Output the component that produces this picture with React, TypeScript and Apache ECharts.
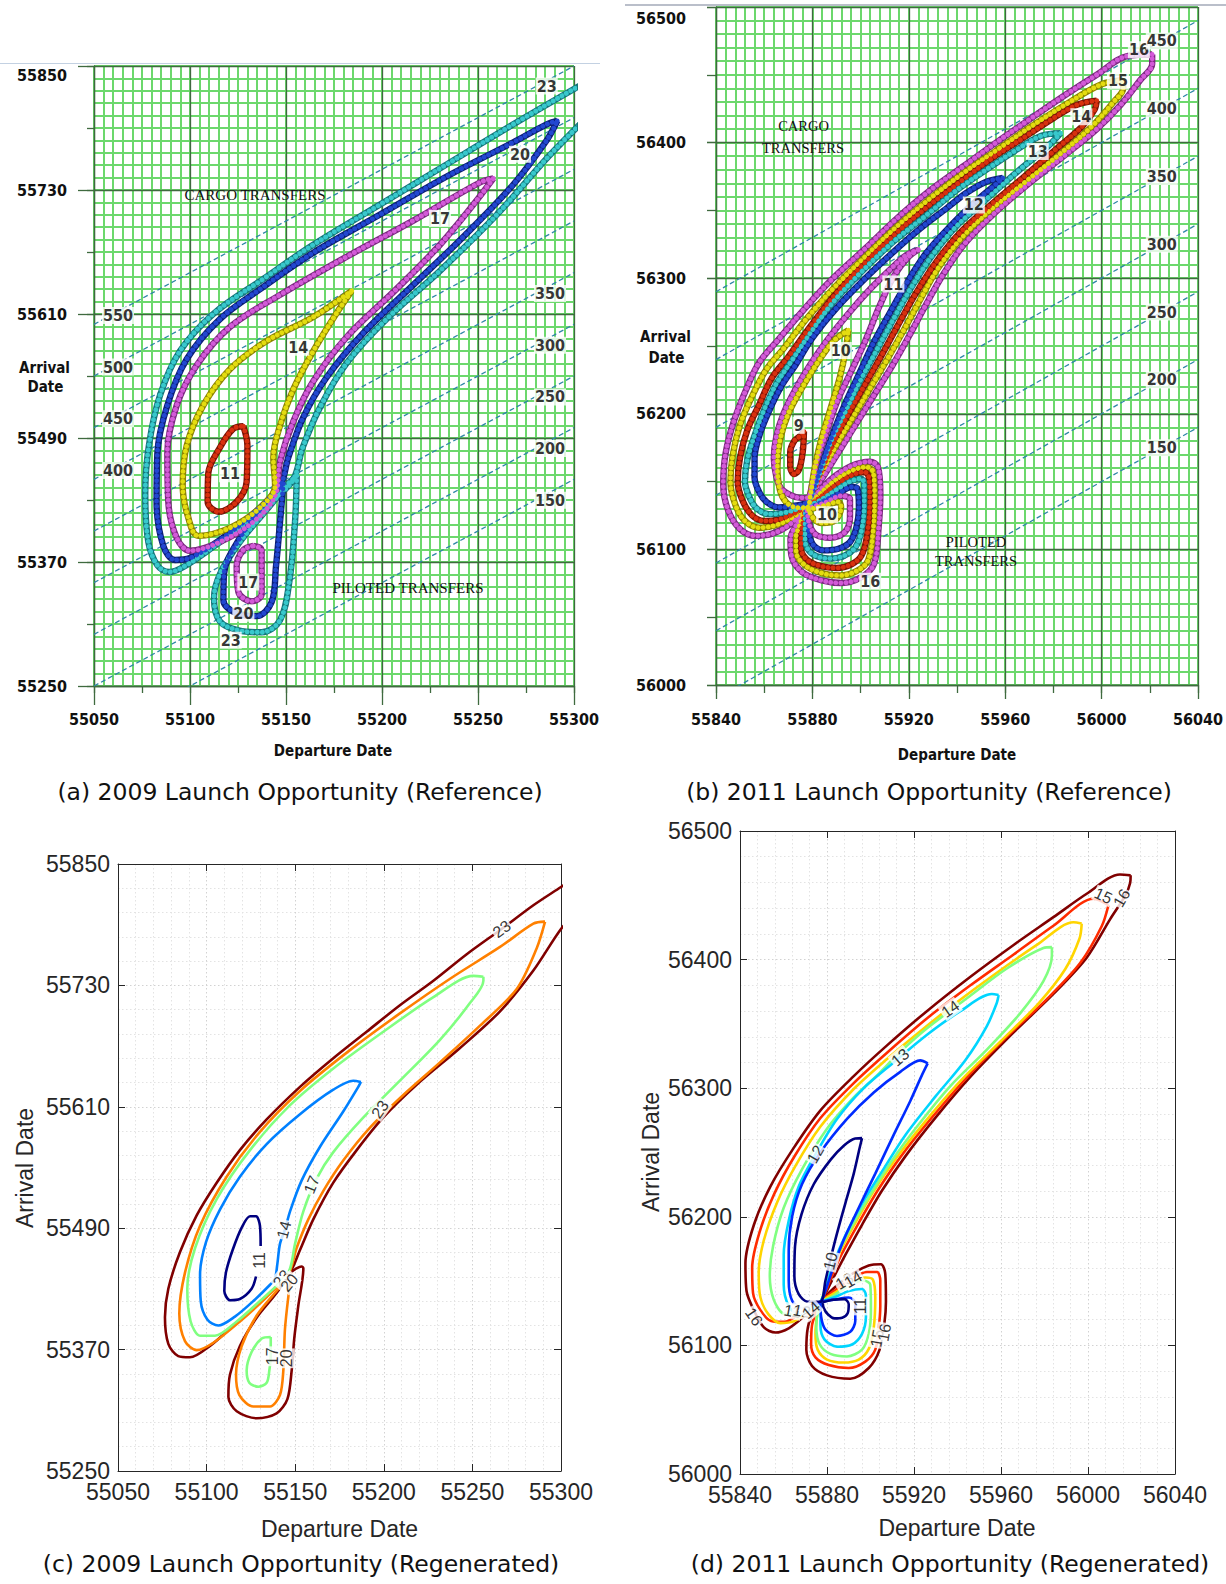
import React, { useEffect, useRef } from "react";
import * as echarts from "echarts";

type Pt = [number, number];
type Lbl = { v: Pt; t: string; r?: number };

// ================= (a) 2009 launch opportunity (reference) =================
const A_DEP: Pt = [55050, 55300];
const A_ARR: Pt = [55250, 55850];
const A_TOF = [150, 200, 250, 300, 350, 400, 450, 500, 550];
const A_TOF_LEFT = [400, 450, 500, 550];
const A_TOF_RIGHT = [150, 200, 250, 300, 350];
const A_TOF_LABEL_DEP = [55062.5, 55287.5];

const A_C11: Pt[] = [[55127.8,55501.4],[55129.9,55482.7],[55129.5,55447.7],[55124.3,55428.3],[55114.8,55418.6],[55109.2,55428.3],[55109.5,55455.5],[55115.6,55480.8],[55122.6,55499.0],[55127.8,55501.4]];
const A_C14: Pt[] = [[55184.2,55632.4],[55164.2,55607.1],[55139.9,55583.8],[55120.8,55556.6],[55106.9,55521.6],[55098.3,55482.7],[55096.2,55443.9],[55099.1,55412.8],[55104.3,55395.3],[55120.8,55403.1],[55136.5,55422.5],[55144.3,55443.9],[55143.4,55471.1],[55146.9,55502.2],[55153.8,55537.1],[55164.2,55574.1],[55176.4,55611.0],[55184.2,55632.4]];
const A_C17: Pt[] = [[55258.0,55741.2],[55251.0,55737.3],[55216.3,55700.4],[55181.6,55665.4],[55146.9,55628.5],[55120.8,55597.4],[55103.5,55560.4],[55093.1,55521.6],[55088.2,55475.0],[55088.7,55428.3],[55093.1,55393.3],[55100.0,55380.9],[55115.6,55389.4],[55133.0,55408.9],[55144.3,55434.2],[55146.9,55467.2],[55153.8,55506.0],[55164.2,55544.9],[55181.6,55587.7],[55207.6,55634.3],[55230.2,55677.0],[55247.6,55715.9],[55258.0,55741.2]];
const A_P17: Pt[] = [[55133.0,55385.6],[55137.3,55381.7],[55137.3,55338.9],[55132.1,55331.9],[55125.2,55340.9],[55124.3,55366.1],[55127.8,55381.7],[55133.0,55385.6]];
const A_C20: Pt[] = [[55291.3,55796.8],[55285.8,55793.6],[55268.4,55776.2],[55233.7,55743.1],[55199.0,55706.2],[55164.2,55669.3],[55138.2,55636.2],[55115.6,55605.1],[55098.3,55566.3],[55088.2,55521.6],[55083.0,55475.0],[55082.6,55428.3],[55086.1,55385.6],[55092.2,55372.0],[55100.0,55373.9],[55115.6,55391.4],[55133.0,55416.7],[55146.9,55443.9],[55151.2,55471.1],[55159.0,55510.0],[55171.2,55548.8],[55190.3,55591.6],[55216.3,55638.2],[55242.4,55684.8],[55268.4,55735.3],[55285.8,55778.1],[55291.3,55796.8]];
const A_P20: Pt[] = [[55148.6,55445.8],[55146.9,55408.9],[55144.8,55366.1],[55142.5,55331.1],[55134.7,55317.6],[55124.3,55320.3],[55117.4,55333.1],[55117.7,55358.4],[55126.0,55393.3],[55138.2,55424.4],[55148.6,55445.8]];
const A_C23: Pt[] = [[55310,55838],[55300,55827.8],[55268.4,55793.6],[55233.7,55754.8],[55199.0,55715.9],[55164.2,55677.0],[55138.2,55644.0],[55112.2,55610.2],[55094.8,55574.1],[55084.4,55531.3],[55078.6,55482.7],[55076.7,55436.1],[55078.3,55389.4],[55083.0,55366.9],[55089.2,55360.3],[55096.5,55365.2],[55112.2,55384.8],[55129.5,55408.1],[55143.4,55430.3],[55153.8,55449.7],[55158.7,55480.8],[55167.7,55519.6],[55181.6,55562.4],[55202.4,55605.1],[55230.2,55651.8],[55259.7,55705.9],[55285.8,55760.6],[55300,55787.8],[55310,55806]];
const A_P23: Pt[] = [[55155.6,55453.6],[55154.7,55408.9],[55151.7,55350.6],[55146.9,55313.7],[55137.3,55302.0],[55125.2,55303.9],[55115.6,55312.5],[55112.5,55335.0],[55115.6,55358.4],[55126.0,55389.4],[55139.9,55420.5],[55151.2,55445.8],[55155.6,55453.6]];
const A_LABELS: Lbl[] = [
  { v: [55120.8, 55455.5], t: "11" }, { v: [55156.4, 55577.9], t: "14" }, { v: [55230.2, 55702.3], t: "17" },
  { v: [55271.9, 55764.5], t: "20" }, { v: [55285.8, 55830.6], t: "23" }, { v: [55130.4, 55350.6], t: "17" },
  { v: [55127.8, 55320.3], t: "20" }, { v: [55121.2, 55294.2], t: "23" },
];

// ================= (b) 2011 launch opportunity (reference) =================
const B_DEP: Pt = [55840, 56040];
const B_ARR: Pt = [56000, 56500];
const B_TOF = [150, 200, 250, 300, 350, 400, 450];
const B_TOF_LABEL_DEP = 56025;

const B_C16: Pt[] = [[56021,56465],[56011,56464],[55998,56450],[55984,56434],[55970,56417],[55957,56401],[55943,56383],[55929,56365],[55915,56344],[55902,56322],[55888,56299],[55877,56278],[55866,56255],[55858,56238],[55853,56220],[55847.5,56195],[55844,56171],[55843,56148],[55845,56129],[55850,56115],[55856.5,56110],[55864,56112],[55871,56119],[55877,56130],[55880,56141],[55885,56155],[55892,56175],[55899,56195],[55906,56215],[55913,56235],[55920,56257],[55927,56280],[55934,56302],[55943,56325],[55955,56347],[55970,56370],[55985,56391],[55998,56410],[56008,56428],[56016,56446],[56021,56458],[56021,56465]];
const B_C15: Pt[] = [[56009,56446],[56000,56443],[55985,56428],[55970,56411],[55957,56395],[55943,56378],[55929,56359],[55915,56338],[55902,56316],[55889,56293],[55878,56271],[55868,56248],[55861,56233],[55855,56213],[55850,56192],[55847,56170],[55846,56150],[55848,56133],[55852,56121],[55858,56116],[55865,56118],[55872,56124],[55877,56131],[55880,56143],[55884,56157],[55890,56177],[55897,56198],[55904,56219],[55911,56240],[55918,56262],[55925,56285],[55932,56307],[55942,56330],[55955,56352],[55969,56372],[55983,56392],[55996,56412],[56005,56430],[56009,56440],[56009,56446]];
const B_C14: Pt[] = [[55998,56431],[55990,56428],[55980,56418],[55968,56404],[55955,56389],[55942,56372],[55928,56353],[55914,56332],[55901,56310],[55889,56287],[55879,56264],[55870,56242],[55863,56226],[55858,56207],[55853,56188],[55850,56168],[55849,56150],[55851,56136],[55855,56125],[55860,56121],[55866,56122],[55873,56127],[55877,56132],[55881,56145],[55884,56159],[55889,56179],[55895,56200],[55902,56222],[55909,56244],[55916,56267],[55923,56289],[55931,56311],[55941,56333],[55954,56354],[55968,56375],[55981,56395],[55992,56412],[55997,56424],[55998,56431]];
const B_C13: Pt[] = [[55983,56407],[55975,56405],[55965,56395],[55953,56381],[55940,56365],[55927,56346],[55913,56326],[55900,56304],[55888,56281],[55879,56259],[55871,56238],[55865,56222],[55860,56203],[55856,56184],[55853,56166],[55852,56150],[55854,56138],[55857,56130],[55862,56126],[55868,56127],[55874,56130],[55878,56134],[55881,56146],[55884,56161],[55888,56181],[55894,56203],[55900,56225],[55907,56248],[55914,56271],[55921,56293],[55929,56315],[55939,56337],[55952,56358],[55966,56380],[55977,56396],[55983,56407]];
const B_C12: Pt[] = [[55959,56374],[55952,56371],[55944,56363],[55936,56352],[55925,56337],[55914,56320],[55902,56300],[55890,56278],[55880,56256],[55873,56236],[55867,56220],[55862,56202],[55858,56184],[55856,56167],[55856,56153],[55858,56142],[55861,56135],[55866,56131],[55872,56132],[55878,56135],[55881,56147],[55884,56163],[55888,56183],[55893,56205],[55899,56228],[55905,56251],[55912,56274],[55919,56296],[55927,56318],[55937,56338],[55948,56357],[55956,56369],[55959,56374]];
const B_C11: Pt[] = [[55924,56321],[55919,56317],[55912,56306],[55904,56292],[55895,56274],[55886,56254],[55879,56236],[55873,56218],[55868,56200],[55865,56183],[55864,56167],[55865,56154],[55867,56145],[55871,56140],[55875,56138],[55878,56138],[55880,56149],[55882,56166],[55886,56187],[55890,56208],[55896,56231],[55902,56254],[55908,56280],[55914,56302],[55920,56316],[55924,56321]];
const B_C10: Pt[] = [[55894.9,56261.6],[55889,56254],[55883,56240],[55876,56220],[55870,56200],[55866.5,56180],[55865.5,56161],[55866.5,56144],[55869,56135],[55873,56131],[55877.7,56130.7],[55879.1,56138.6],[55880.5,56155.8],[55883.2,56177.9],[55887.3,56202.5],[55891.4,56227.1],[55893.8,56246.8],[55894.9,56261.6]];
const B_C9: Pt[] = [[55876.5,56187],[55876,56172],[55874.5,56159],[55872.5,56155.5],[55870.8,56161],[55870.8,56172],[55872.5,56180],[55874.5,56183],[55876.5,56187]];
const B_P16: Pt[] = [[55877,56131],[55881.2,56139.8],[55888.0,56152.1],[55896.2,56161.5],[55903.8,56164.7],[55907.2,56160.7],[55908.2,56141.1],[55907.5,56116.5],[55905.6,56089.4],[55900.4,56079.6],[55892.1,56075.2],[55883.9,56077.1],[55875.7,56083.3],[55871.3,56095.6],[55870.9,56107.9],[55873.6,56119.0],[55877,56131]];
const B_P15: Pt[] = [[55877,56131],[55881.8,56138.6],[55888.7,56149.7],[55896.2,56157.8],[55902.4,56160.7],[55905.2,56157.1],[55905.8,56138.6],[55905.2,56114.0],[55903.1,56091.9],[55898.3,56084.0],[55891.4,56080.8],[55883.9,56082.5],[55877.0,56088.2],[55873.3,56098.0],[55873.2,56108.6],[55875.0,56119.0],[55877,56131]];
const B_P14: Pt[] = [[55877,56131],[55882.5,56137.4],[55889.4,56147.2],[55896.2,56154.6],[55901.5,56157.1],[55903.4,56153.4],[55903.8,56136.2],[55902.8,56111.6],[55900.4,56095.6],[55896.2,56089.0],[55890.1,56086.3],[55883.2,56087.8],[55877.7,56092.5],[55875.3,56100.6],[55875.3,56110.4],[55876.1,56120.2],[55877,56131]];
const B_P13: Pt[] = [[55877,56131],[55883.2,56136.2],[55890.1,56144.1],[55896.2,56150.5],[55900.1,56152.2],[55901.5,56148.5],[55901.5,56133.8],[55900.4,56114.0],[55897.9,56101.7],[55893.5,56095.6],[55887.3,56093.2],[55881.8,56094.9],[55878.4,56099.4],[55877.0,56106.7],[55877.0,56116.5],[55877,56131]];
const B_P12: Pt[] = [[55877.3,56129.3],[55883.9,56135.0],[55890.8,56141.1],[55896.2,56146.0],[55898.7,56144.8],[55899.3,56131.3],[55898.3,56116.5],[55895.6,56105.4],[55890.8,56100.5],[55884.6,56099.3],[55880.5,56103.0],[55878.7,56110.4],[55878.0,56120.2],[55877.3,56129.3]];
const B_P11: Pt[] = [[55877.7,56130.0],[55885.3,56134.5],[55892.1,56139.5],[55895.6,56137.0],[55895.6,56123.9],[55893.5,56112.8],[55887.3,56108.6],[55881.8,56110.4],[55879.1,56116.5],[55878.1,56123.9],[55877.7,56130.0]];
const B_P10: Pt[] = [[55878.4,56129.3],[55885.3,56132.5],[55890.8,56135.0],[55891.9,56131.3],[55889.4,56121.4],[55883.9,56119.5],[55880.5,56122.7],[55878.4,56129.3]];
const B_LABELS: Lbl[] = [
  { v: [56015.5, 56468.5], t: "16" }, { v: [56006.8, 56445.5], t: "15" }, { v: [55991.6, 56419], t: "14" },
  { v: [55973.5, 56393.4], t: "13" }, { v: [55947, 56354], t: "12" }, { v: [55913.6, 56295.7], t: "11" },
  { v: [55891.8, 56246.7], t: "10" }, { v: [55874.3, 56191.5], t: "9" }, { v: [55886.1, 56125.5], t: "10" },
  { v: [55904, 56076.6], t: "16" },
];

// ================= (c) 2009 regenerated =================
const C_C23: Pt[] = [[55310,55839],[55300.0,55827.3],[55284.4,55809.2],[55266.5,55785.8],[55246.8,55760.8],[55228.0,55734.6],[55209.1,55710.4],[55190.3,55684.2],[55171.5,55658.0],[55152.7,55629.7],[55133.9,55597.5],[55118.8,55567.2],[55105.7,55534.9],[55094.4,55502.6],[55085.0,55466.4],[55078.4,55430.1],[55076.5,55401.9],[55078.4,55375.7],[55084.0,55363.6],[55090.6,55362.4],[55101.9,55373.7],[55115.1,55393.8],[55128.3,55414.0],[55139.5,55432.1],[55147.1,55446.2],[55152.7,55468.4],[55160.2,55498.7],[55171.5,55535.0],[55184.7,55567.2],[55199.7,55599.5],[55218.5,55631.8],[55243.0,55668.1],[55265.6,55704.4],[55284.4,55744.7],[55300.0,55785.8],[55310,55805]];
const C_P23: Pt[] = [[55148.0,55446.9],[55139.5,55425.9],[55128.3,55401.7],[55118.8,55373.5],[55113.2,55345.3],[55112.3,55323.1],[55117.0,55309.0],[55128.3,55302.1],[55139.5,55307.0],[55145.6,55321.1],[55148.0,55349.3],[55149.5,55381.6],[55151.8,55413.9],[55154.6,55450.2],[55153.6,55452.2],[55149.9,55449.4],[55148.0,55446.9]];
const C_C20: Pt[] = [[55291.0,55793.0],[55284.4,55791.0],[55265.6,55768.0],[55237.4,55736.6],[55209.1,55702.3],[55180.9,55666.0],[55152.7,55625.7],[55130.1,55585.3],[55111.3,55540.9],[55096.3,55492.5],[55087.8,55446.1],[55084.6,55405.8],[55087.8,55378.4],[55094.4,55369.5],[55103.8,55376.8],[55118.8,55397.8],[55133.9,55422.0],[55146.1,55444.2],[55150.8,55470.4],[55157.4,55498.7],[55165.9,55526.9],[55177.2,55557.1],[55192.2,55589.4],[55211.0,55621.7],[55231.7,55653.9],[55254.3,55690.2],[55275.0,55726.5],[55286.3,55766.8],[55291.0,55793.0]];
const C_P20: Pt[] = [[55148.0,55445.4],[55139.5,55427.9],[55128.3,55403.7],[55119.8,55373.5],[55116.6,55345.3],[55118.5,55325.1],[55126.4,55313.8],[55135.8,55313.8],[55141.4,55325.1],[55143.3,55349.3],[55144.2,55389.6],[55146.1,55421.9],[55148.0,55445.4]];
const C_C17: Pt[] = [[55256.2,55738.6],[55250.5,55739.4],[55228.0,55718.4],[55199.7,55684.2],[55171.5,55647.9],[55147.1,55611.6],[55124.5,55567.2],[55105.7,55518.8],[55093.5,55470.4],[55089.1,55430.1],[55091.0,55397.8],[55096.3,55383.7],[55104.7,55383.7],[55117.0,55397.8],[55130.1,55418.0],[55142.4,55438.1],[55147.1,55450.2],[55149.9,55474.5],[55154.6,55506.7],[55162.1,55539.0],[55171.5,55565.2],[55188.5,55599.5],[55209.1,55635.8],[55231.7,55676.2],[55248.6,55712.5],[55256.2,55734.6],[55256.2,55738.6]];
const C_P17: Pt[] = [[55136.2,55382.5],[55131.1,55380.9],[55125.4,55367.6],[55122.6,55349.3],[55124.1,55337.3],[55129.2,55333.3],[55133.9,55337.3],[55135.4,55349.3],[55136.2,55365.4],[55136.2,55382.5]];
const C_C14: Pt[] = [[55187.1,55634.6],[55182.8,55635.8],[55171.5,55626.9],[55152.7,55602.7],[55133.9,55573.2],[55118.8,55540.9],[55107.6,55508.7],[55099.7,55476.4],[55096.3,55444.2],[55096.7,55417.9],[55100.4,55399.8],[55106.6,55393.8],[55116.0,55402.6],[55126.4,55418.0],[55135.8,55434.1],[55138.6,55440.2],[55139.9,55454.3],[55141.4,55474.5],[55144.2,55488.6],[55147.1,55506.7],[55153.6,55537.0],[55164.0,55570.5],[55177.2,55605.6],[55185.6,55629.7],[55187.1,55634.6]];
const C_C11: Pt[] = [[55130.5,55472.4],[55130.1,55492.5],[55127.9,55501.8],[55124.5,55501.8],[55119.8,55490.5],[55114.7,55468.4],[55110.9,55446.1],[55110.0,55428.0],[55113.2,55418.8],[55118.8,55420.0],[55125.4,55430.1],[55127.9,55442.2]];
const C_LABELS: Lbl[] = [
  { v: [55266.5, 55785.8], t: "23", r: 36 }, { v: [55197.9, 55607.5], t: "23", r: 55 },
  { v: [55159.3, 55532.9], t: "17", r: 68 }, { v: [55143.7, 55488.5], t: "14", r: 75 },
  { v: [55129.8, 55458.2], t: "11", r: 90 }, { v: [55137.3, 55363.4], t: "17", r: 90 },
  { v: [55145.2, 55361.4], t: "20", r: 90 }, { v: [55142.4, 55440.1], t: "23", r: 50 },
  { v: [55146.7, 55436.1], t: "20", r: 50 },
];

// ================= (d) 2011 regenerated =================
const D_C16: Pt[] = [[56019.6,56465.5],[56014.7,56466.2],[55999.4,56451.2],[55984.1,56433.0],[55965.8,56411.4],[55945.8,56386.5],[55925.9,56359.9],[55907.6,56333.3],[55892.3,56309.4],[55877.0,56282.8],[55864.7,56253.6],[55854.0,56223.7],[55846.4,56193.8],[55842.5,56163.9],[55843.0,56142.3],[55846.4,56127.3],[55851.0,56114.0],[55856.3,56110.0],[55862.4,56113.3],[55869.3,56122.3],[55877.0,56133.9],[55882.3,56150.5],[55888.5,56170.5],[55896.1,56193.8],[55905.3,56220.4],[55916.0,56247.0],[55929.8,56276.9],[55946.6,56310.1],[55965.8,56343.4],[55984.1,56373.3],[55999.4,56401.5],[56010.2,56431.5],[56017.1,56449.8],[56019.4,56459.8],[56019.6,56465.5]];
const D_C15: Pt[] = [[56009.4,56442.3],[56002.5,56447.3],[55984.1,56426.3],[55965.8,56404.0],[55945.8,56379.8],[55925.9,56354.2],[55907.6,56327.6],[55892.3,56304.0],[55877.0,56276.8],[55865.0,56246.9],[55855.8,56218.0],[55849.0,56188.1],[55845.6,56160.5],[55846.0,56140.6],[55849.4,56127.3],[55854.3,56119.0],[55860.4,56118.3],[55867.8,56125.0],[55877.0,56133.9],[55881.3,56150.5],[55886.6,56170.5],[55894.1,56193.8],[55903.3,56220.4],[55914.0,56247.0],[55927.8,56276.3],[55944.3,56308.5],[55962.7,56340.1],[55981.1,56369.3],[55996.4,56397.3],[56006.3,56425.9],[56009.4,56442.3]];
const D_C14: Pt[] = [[55997.1,56428.0],[55993.3,56429.0],[55976.5,56411.4],[55958.1,56389.8],[55938.2,56364.9],[55922.9,56344.3],[55907.6,56322.7],[55892.3,56299.4],[55877.0,56270.2],[55865.5,56239.6],[55857.1,56211.4],[55850.9,56181.4],[55848.6,56156.5],[55849.4,56137.2],[55853.2,56123.9],[55858.6,56117.3],[55865.0,56118.9],[55871.2,56125.6],[55877.0,56133.9],[55879.7,56147.2],[55884.9,56168.8],[55892.0,56192.1],[55901.0,56218.7],[55911.7,56245.3],[55925.2,56274.2],[55941.6,56306.1],[55960.0,56336.7],[55977.3,56366.0],[55989.5,56392.5],[55996.1,56416.4],[55997.1,56428.0]];
const D_C13: Pt[] = [[55983.4,56409.7],[55979.5,56409.0],[55962.7,56393.1],[55944.3,56369.9],[55926.0,56346.6],[55913.7,56328.3],[55903.0,56310.0],[55892.3,56292.8],[55880.0,56268.5],[55868.5,56236.9],[55860.1,56207.0],[55855.2,56177.1],[55853.7,56153.8],[55855.5,56135.6],[55860.1,56124.6],[55866.3,56123.9],[55872.4,56128.9],[55877.0,56133.9],[55879.3,56145.5],[55883.9,56167.1],[55890.7,56190.4],[55899.2,56215.3],[55909.1,56241.9],[55921.4,56270.2],[55936.7,56301.7],[55953.5,56330.0],[55968.8,56358.2],[55979.5,56383.2],[55983.4,56403.1],[55983.4,56409.7]];
const D_C12: Pt[] = [[55958.9,56372.5],[55955.8,56373.2],[55941.3,56359.9],[55926.0,56341.6],[55910.6,56320.0],[55896.9,56300.1],[55884.6,56276.1],[55874.7,56248.6],[55867.0,56223.6],[55862.4,56197.0],[55860.1,56170.4],[55860.1,56147.2],[55862.4,56130.6],[55867.0,56123.9],[55872.4,56127.9],[55877.0,56133.9],[55879.0,56142.2],[55882.3,56160.5],[55888.4,56185.4],[55896.1,56210.3],[55905.3,56235.3],[55916.0,56263.5],[55929.8,56293.4],[55943.6,56321.7],[55953.5,56348.3],[55958.1,56366.5],[55958.9,56372.5]];
const D_C11: Pt[] = [[55926.3,56319.3],[55922.9,56321.6],[55913.7,56312.7],[55901.5,56296.7],[55889.2,56276.1],[55877.0,56250.2],[55868.5,56225.3],[55864.0,56200.4],[55862.4,56173.8],[55862.4,56150.5],[55864.0,56134.6],[55868.5,56128.9],[55873.1,56131.2],[55877.0,56133.9],[55879.0,56141.2],[55882.3,56157.8],[55887.7,56182.1],[55894.6,56207.0],[55902.2,56233.6],[55910.6,56263.5],[55918.3,56290.1],[55923.6,56310.0],[55926.3,56319.3]];
const D_C10: Pt[] = [[55896.1,56261.2],[55893.0,56260.9],[55887.7,56255.3],[55881.6,56244.3],[55873.9,56225.3],[55868.3,56202.0],[55865.3,56177.1],[55865.0,56153.8],[55867.0,56139.8],[55871.2,56133.9],[55877.0,56133.9],[55879.3,56150.5],[55881.6,56167.1],[55884.6,56187.1],[55888.4,56210.3],[55892.3,56233.6],[55895.0,56253.5],[55896.1,56261.2]];
const D_P16: Pt[] = [[55877.0,56133.9],[55883.1,56144.5],[55891.5,56155.5],[55899.2,56162.1],[55904.8,56163.1],[55906.8,56155.5],[55907.1,56133.9],[55906.4,56117.3],[55904.2,56096.7],[55899.2,56082.4],[55890.7,56074.1],[55880.0,56076.7],[55873.1,56084.0],[55870.5,56096.7],[55871.2,56114.0],[55873.9,56126.6],[55877.0,56133.9]];
const D_P15: Pt[] = [[55877.0,56133.9],[55883.1,56142.2],[55890.7,56151.2],[55898.4,56157.1],[55903.0,56157.1],[55904.5,56150.5],[55904.5,56130.5],[55903.8,56113.9],[55902.2,56096.7],[55897.6,56087.4],[55890.0,56082.4],[55880.8,56084.7],[55874.7,56090.7],[55872.7,56100.7],[55873.1,56115.6],[55875.1,56126.6],[55877.0,56133.9]];
const D_P14: Pt[] = [[55877.0,56133.9],[55883.1,56140.5],[55890.7,56147.8],[55897.6,56152.8],[55901.1,56151.2],[55902.2,56137.2],[55901.5,56113.9],[55899.2,56097.3],[55894.6,56089.0],[55887.7,56086.7],[55880.0,56089.0],[55875.7,56096.7],[55874.7,56108.9],[55875.5,56124.0],[55877.0,56133.9]];
const D_P13: Pt[] = [[55877.0,56133.9],[55883.1,56138.8],[55890.0,56146.5],[55896.9,56150.5],[55899.9,56147.2],[55900.2,56127.3],[55899.2,56109.0],[55896.1,56096.7],[55889.2,56091.4],[55881.6,56093.4],[55876.7,56100.7],[55875.1,56114.0],[55875.7,56126.6],[55877.0,56133.9]];
const D_P12: Pt[] = [[55877.0,56133.9],[55883.1,56137.2],[55890.0,56142.2],[55896.1,56143.9],[55897.9,56138.9],[55897.9,56122.3],[55896.1,56109.0],[55891.5,56100.7],[55884.6,56099.0],[55878.8,56104.7],[55877.0,56115.6],[55877.0,56127.3],[55877.0,56133.9]];
const D_P11: Pt[] = [[55877.0,56133.9],[55883.1,56135.6],[55890.0,56137.2],[55893.0,56133.2],[55893.0,56119.0],[55890.7,56110.6],[55884.6,56107.3],[55879.3,56112.3],[55877.3,56122.3],[55877.0,56133.9]];
const D_P10: Pt[] = [[55878,56133.5],[55883,56135.5],[55888,56136],[55890,56132],[55889.5,56125],[55887,56121.5],[55883.5,56121],[55880.5,56124],[55878.5,56129],[55878,56133.5]];
const D_LABELS: Lbl[] = [
  { v: [56015.5, 56447.9], t: "16", r: 60 }, { v: [56007.1, 56449.6], t: "15", r: -25 },
  { v: [55936.7, 56361.6], t: "14", r: 35 }, { v: [55913.7, 56324.0], t: "13", r: 40 },
  { v: [55874.7, 56248.6], t: "12", r: 60 }, { v: [55881.6, 56165.5], t: "10", r: 76 },
  { v: [55846.4, 56122.3], t: "16", r: -55 }, { v: [55895.3, 56130.6], t: "11", r: 90 },
  { v: [55903.0, 56105.6], t: "15", r: 80 }, { v: [55906.4, 56110.0], t: "16", r: 80 },
  { v: [55864.0, 56126.6], t: "11", r: -10 }, { v: [55868.5, 56126.6], t: "12", r: -10 },
  { v: [55872.6, 56127.5], t: "14", r: 40 }, { v: [55888.0, 56150.0], t: "13", r: 30 },
  { v: [55892.0, 56151.5], t: "14", r: 30 },
];

// ================= styles =================
const NARROW = "'Liberation Sans Narrow','Arial Narrow','DejaVu Sans Condensed','Liberation Sans',sans-serif";
const SERIF = "'Liberation Serif','DejaVu Serif',serif";
const HELV = "'Liberation Sans',Arial,Helvetica,sans-serif";
const CAPF = "'DejaVu Sans',Verdana,sans-serif";
const DARK = "#3f6a3f";
const GREEN = "#6cd86c";
const MAT = "#262626";
const TOF_COLOR = "#2f86a6";

const BEAD = {
  red: ["#d8300f", "#7a1405"], yellow: ["#e4dc10", "#8c8400"], magenta: ["#d35ad8", "#7c2a80"],
  blue: ["#2247d0", "#0c1f75"], cyan: ["#38c8cc", "#15767a"],
};
const JET = { 10: "#000080", 11: "#002bff", 12: "#00d5ff", 13: "#80ff80", 14: "#ffd500", 15: "#ff2b00", 16: "#800000" };
const JET_C = { 11: "#000080", 14: "#0080ff", 17: "#80ff80", 20: "#ff8000", 23: "#800000" };

const refLabelFont = { fontFamily: NARROW, fontWeight: "bold" as const, fontSize: 16, color: "#111" };

function refMinorAxis(dim: "x" | "y", grid: number, range: Pt, interval: number, split: number, tickLen: number) {
  return {
    type: "value", gridIndex: grid, min: range[0], max: range[1], interval,
    position: dim === "x" ? "bottom" : "left", z: 0,
    axisLine: { show: false, onZero: false },
    axisLabel: { show: false },
    axisTick: { show: true, length: tickLen, lineStyle: { color: DARK, width: 1.3 } },
    splitLine: { show: true, lineStyle: { color: GREEN, width: 2 } },
    minorTick: { show: false, splitNumber: split },
    minorSplitLine: { show: true, lineStyle: { color: GREEN, width: 2 } },
  };
}
function refMajorAxis(dim: "x" | "y", grid: number, range: Pt, interval: number, tickLen: number, margin: number, topPad: number) {
  const top = range[1];
  return {
    type: "value", gridIndex: grid, min: range[0], max: range[1], interval,
    position: dim === "x" ? "bottom" : "left", z: 1,
    axisLine: { show: true, onZero: false, lineStyle: { color: DARK, width: 1.3 } },
    axisTick: { show: true, length: tickLen, lineStyle: { color: DARK, width: 1.3 } },
    axisLabel: {
      show: true, margin, ...refLabelFont,
      formatter: (v: number) => (dim === "y" && v === top ? `{t|${v}}` : `${v}`),
      rich: { t: { ...refLabelFont, padding: [topPad, 0, 0, 0] } },
    },
    splitLine: { show: true, lineStyle: { color: DARK, width: 1.3 } },
  };
}
function matAxis(dim: "x" | "y", grid: number, range: Pt, interval: number, split: number, position: string, main: boolean) {
  return {
    type: "value", gridIndex: grid, min: range[0], max: range[1], interval, position,
    axisLine: { show: true, onZero: false, lineStyle: { color: MAT, width: 1 } },
    axisTick: { show: true, inside: true, length: 7, lineStyle: { color: MAT, width: 1 } },
    axisLabel: { show: main, fontFamily: HELV, fontSize: 23, color: MAT, margin: dim === "x" ? 9 : 8,
      formatter: (v: number) => String(v) },
    splitLine: { show: main, lineStyle: { color: "#d2d2d2", width: 1, type: [1.5, 2.5] } },
    minorTick: { show: false, splitNumber: split },
    minorSplitLine: { show: main, lineStyle: { color: "#e3e3e3", width: 1, type: [1.5, 2.5] } },
  };
}

function beads(xi: number, yi: number, data: Pt[], c: string[]) {
  return [
    { type: "line", xAxisIndex: xi, yAxisIndex: yi, data, smooth: 0.35, symbol: "none", silent: true, z: 3,
      lineStyle: { color: c[1], width: 6.4 } },
    { type: "line", xAxisIndex: xi, yAxisIndex: yi, data, smooth: 0.35, symbol: "none", silent: true, z: 4,
      lineStyle: { color: c[0], width: 4.8, type: [0.1, 5], cap: "round" } },
  ];
}
function jetLine(xi: number, yi: number, data: Pt[], color: string) {
  return { type: "line", xAxisIndex: xi, yAxisIndex: yi, data, smooth: 0.3, symbol: "none", silent: true, z: 3,
    lineStyle: { color, width: 2.6 } };
}
function labels(xi: number, yi: number, items: Lbl[], style: any, offset?: number[]) {
  return {
    type: "scatter", xAxisIndex: xi, yAxisIndex: yi, symbolSize: 1, silent: true, z: 6,
    itemStyle: { color: "rgba(0,0,0,0)" },
    data: items.map((d) => ({ value: d.v, name: d.t, label: d.r !== undefined ? { rotate: d.r } : undefined })),
    label: { show: true, position: "inside", formatter: "{b}", offset, ...style },
  };
}
function tofLines(xi: number, yi: number, tofs: number[], dep: Pt) {
  return tofs.map((t) => ({
    type: "line", xAxisIndex: xi, yAxisIndex: yi, symbol: "none", silent: true, z: 2, clip: true,
    data: [[dep[0], dep[0] + t], [dep[1], dep[1] + t]],
    lineStyle: { color: TOF_COLOR, width: 1.3, type: [5, 3] },
  }));
}

function text(x: number, y: number, t: string, font: string, extra: any = {}) {
  return { type: "text", x, y, silent: true, z: 20, ...extra,
    style: { text: t, font, fill: "#111", align: "center", verticalAlign: "middle", ...(extra.style || {}) } };
}

function buildOption() {
  const refTagStyle = { ...refLabelFont, fontSize: 16, color: "#000", backgroundColor: "#fff", padding: [1, 1, 0, 1] };
  const matTagStyle = { fontFamily: HELV, fontSize: 16, color: "#000", backgroundColor: "#fff", padding: [0, 1] };

  const xAxis = [
    refMinorAxis("x", 0, A_DEP, 25, 5, 7), refMajorAxis("x", 0, A_DEP, 50, 19, 25, 0),
    refMinorAxis("x", 1, B_DEP, 20, 5, 8), refMajorAxis("x", 1, B_DEP, 40, 14, 26, 0),
    matAxis("x", 2, A_DEP, 50, 5, "bottom", true), matAxis("x", 2, A_DEP, 50, 5, "top", false),
    matAxis("x", 3, B_DEP, 40, 5, "bottom", true), matAxis("x", 3, B_DEP, 40, 5, "top", false),
  ];
  const yAxis = [
    refMinorAxis("y", 0, A_ARR, 60, 5, 7), refMajorAxis("y", 0, A_ARR, 120, 16, 27, 18),
    refMinorAxis("y", 1, B_ARR, 50, 5, 9), refMajorAxis("y", 1, B_ARR, 100, 9, 30, 22),
    matAxis("y", 2, A_ARR, 120, 5, "left", true), matAxis("y", 2, A_ARR, 120, 5, "right", false),
    matAxis("y", 3, B_ARR, 100, 5, "left", true), matAxis("y", 3, B_ARR, 100, 5, "right", false),
  ];

  const series: any[] = [];
  // (a)
  series.push(...tofLines(1, 1, A_TOF, A_DEP));
  series.push(...beads(1, 1, A_C23, BEAD.cyan), ...beads(1, 1, A_P23, BEAD.cyan));
  series.push(...beads(1, 1, A_C20, BEAD.blue), ...beads(1, 1, A_P20, BEAD.blue));
  series.push(...beads(1, 1, A_C17, BEAD.magenta), ...beads(1, 1, A_P17, BEAD.magenta));
  series.push(...beads(1, 1, A_C14, BEAD.yellow), ...beads(1, 1, A_C11, BEAD.red));
  series.push(labels(1, 1, A_LABELS, refTagStyle));
  series.push(labels(1, 1, A_TOF_LEFT.map((t) => ({ v: [A_TOF_LABEL_DEP[0], A_TOF_LABEL_DEP[0] + t] as Pt, t: String(t) })), refTagStyle, [0, 4]));
  series.push(labels(1, 1, A_TOF_RIGHT.map((t) => ({ v: [A_TOF_LABEL_DEP[1], A_TOF_LABEL_DEP[1] + t] as Pt, t: String(t) })), refTagStyle, [0, 8]));
  // (b)
  series.push(...tofLines(3, 3, B_TOF, B_DEP));
  const bOrder: [Pt[], string[]][] = [
    [B_C16, BEAD.magenta], [B_P16, BEAD.magenta], [B_C15, BEAD.yellow], [B_P15, BEAD.yellow],
    [B_C14, BEAD.red], [B_P14, BEAD.red], [B_C13, BEAD.cyan], [B_P13, BEAD.cyan],
    [B_C12, BEAD.blue], [B_P12, BEAD.blue], [B_C11, BEAD.magenta], [B_P11, BEAD.magenta],
    [B_C10, BEAD.yellow], [B_P10, BEAD.yellow], [B_C9, BEAD.red],
  ];
  bOrder.forEach(([d, c]) => series.push(...beads(3, 3, d, c)));
  series.push(labels(3, 3, B_LABELS, refTagStyle));
  series.push(labels(3, 3, B_TOF.map((t) => ({ v: [B_TOF_LABEL_DEP, B_TOF_LABEL_DEP + t] as Pt, t: String(t) })), refTagStyle));
  // (c)
  series.push(jetLine(4, 4, C_C23, JET_C[23]), jetLine(4, 4, C_P23, JET_C[23]));
  series.push(jetLine(4, 4, C_C20, JET_C[20]), jetLine(4, 4, C_P20, JET_C[20]));
  series.push(jetLine(4, 4, C_C17, JET_C[17]), jetLine(4, 4, C_P17, JET_C[17]));
  series.push(jetLine(4, 4, C_C14, JET_C[14]), jetLine(4, 4, C_C11, JET_C[11]));
  series.push(labels(4, 4, C_LABELS, matTagStyle));
  // (d)
  const dOrder: [Pt[], string][] = [
    [D_C16, JET[16]], [D_P16, JET[16]], [D_C15, JET[15]], [D_P15, JET[15]], [D_C14, JET[14]], [D_P14, JET[14]],
    [D_C13, JET[13]], [D_P13, JET[13]], [D_C12, JET[12]], [D_P12, JET[12]], [D_C11, JET[11]], [D_P11, JET[11]],
    [D_C10, JET[10]], [D_P10, JET[10]],
  ];
  dOrder.forEach(([d, c]) => series.push(jetLine(6, 6, d, c)));
  series.push(labels(6, 6, D_LABELS, matTagStyle));

  const refTitle = `bold 15px ${NARROW}`;
  const matTitle = `23px ${HELV}`;
  const capFont = `23.5px ${CAPF}`;
  const graphic = [
    { type: "line", silent: true, z: 20, shape: { x1: 0, y1: 63.5, x2: 600, y2: 63.5 }, style: { stroke: "#c3d1e2", lineWidth: 1 } },
    { type: "line", silent: true, z: 20, shape: { x1: 625, y1: 5, x2: 1226, y2: 5 }, style: { stroke: "#a3aab8", lineWidth: 1.5 } },
    text(44.5, 368, "Arrival", refTitle), text(45.5, 387, "Date", refTitle),
    text(333, 751, "Departure Date", refTitle),
    text(665.5, 337, "Arrival", refTitle), text(666.5, 358, "Date", refTitle),
    text(957, 755, "Departure Date", refTitle),
    text(255, 195, "CARGO TRANSFERS", `15px ${SERIF}`),
    text(408, 587.5, "PILOTED TRANSFERS", `15px ${SERIF}`),
    text(803.5, 126, "CARGO", `14.5px ${SERIF}`), text(803, 148, "TRANSFERS", `14.5px ${SERIF}`),
    text(976, 542, "PILOTED", `14.5px ${SERIF}`), text(976, 561, "TRANSFERS", `14.5px ${SERIF}`),
    text(339.5, 1529, "Departure Date", matTitle, { style: { fill: MAT } }),
    text(25, 1168, "Arrival Date", matTitle, { rotation: Math.PI / 2, style: { fill: MAT } }),
    text(957, 1528, "Departure Date", matTitle, { style: { fill: MAT } }),
    text(651, 1152, "Arrival Date", matTitle, { rotation: Math.PI / 2, style: { fill: MAT } }),
    text(300, 792, "(a) 2009 Launch Opportunity (Reference)", capFont),
    text(929, 792, "(b) 2011 Launch Opportunity (Reference)", capFont),
    text(301, 1564, "(c) 2009 Launch Opportunity (Regenerated)", capFont),
    text(950, 1564, "(d) 2011 Launch Opportunity (Regenerated)", capFont),
  ];

  return {
    animation: false,
    backgroundColor: "#ffffff",
    grid: [
      { left: 94, top: 66, width: 480, height: 620 },
      { left: 716, top: 7, width: 486, height: 678 },
      { left: 118, top: 864, width: 443, height: 607 },
      { left: 740, top: 831, width: 435, height: 643 },
    ],
    xAxis, yAxis, series, graphic,
  };
}

export default function App() {
  const ref = useRef<HTMLDivElement>(null);
  useEffect(() => {
    document.body.style.margin = "0";
    const chart = echarts.init(ref.current!, null, { renderer: "svg" });
    chart.setOption(buildOption() as any);
    return () => chart.dispose();
  }, []);
  return <div ref={ref} style={{ position: "absolute", left: 0, top: 0, width: 1226, height: 1584, background: "#fff" }} />;
}
